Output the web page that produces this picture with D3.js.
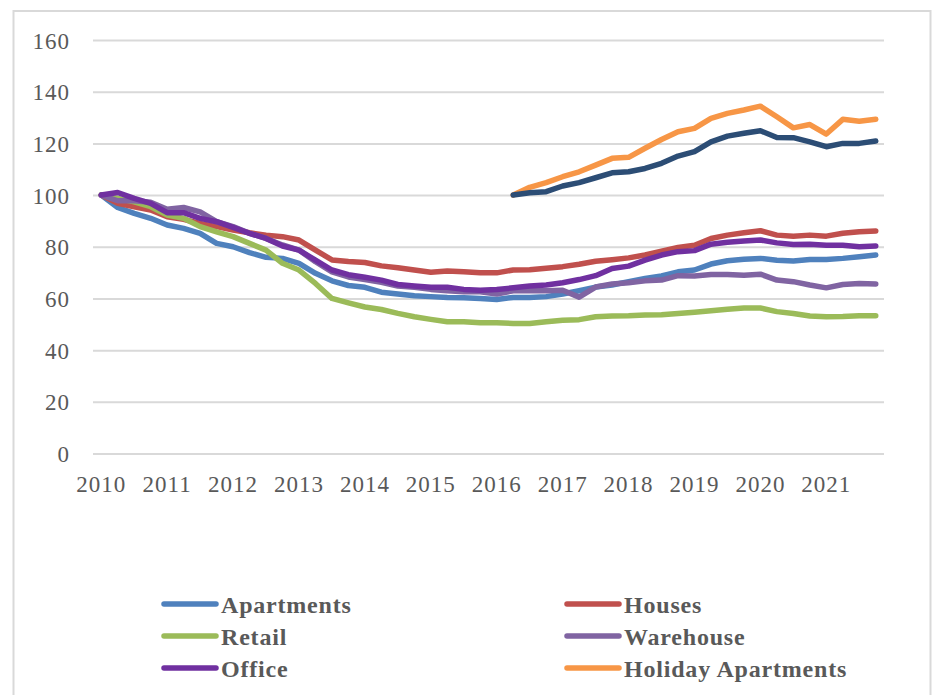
<!DOCTYPE html>
<html>
<head>
<meta charset="utf-8">
<script src="https://cdn.jsdelivr.net/npm/d3@7"></script>
<style>
  html, body { margin: 0; padding: 0; background: #fff; }
  svg { display: block; }
  .tick-label { font-family: "Liberation Serif", "Times New Roman", serif; font-size: 23px; fill: #595959; letter-spacing: 1px; }
  .legend-label { font-family: "Liberation Serif", "Times New Roman", serif; font-size: 24px; font-weight: bold; fill: #595959; letter-spacing: 0.8px; }
</style>
</head>
<body>
<svg id="chart" width="934" height="695"></svg>
<script>
// ---- Data (quarterly index, 2010 Q1 = 100) ----
const years = ["2010","2011","2012","2013","2014","2015","2016","2017","2018","2019","2020","2021"];
const quarters = ["Q1","Q2","Q3","Q4"];
const yTicks = [0, 20, 40, 60, 80, 100, 120, 140, 160];

const apartments = [100,95.2,92.9,91,88.4,87.1,85.2,81.3,80,77.7,75.9,75.5,73.6,69.7,66.8,65,64.3,62.4,61.7,61,60.7,60.4,60.3,60,59.6,60.4,60.4,60.7,61.7,63,64.4,65.2,66.5,67.7,68.7,70.3,71,73.3,74.6,75.2,75.5,74.8,74.5,75.1,75.1,75.5,76.1,76.8];
const houses = [100,96.8,95.5,94.2,91.6,90.6,89,87.8,86.5,85.4,84.5,83.9,82.6,78.7,74.9,74.3,73.9,72.6,71.9,71,70.1,70.6,70.3,69.9,69.9,71,71.1,71.7,72.3,73.2,74.4,75,75.7,76.8,78.3,79.7,80.6,83.2,84.5,85.4,86.2,84.5,84.1,84.5,84.1,85.2,85.8,86.1];
const retail = [100,98.7,97.4,95.5,92.3,91,87.8,85.8,83.9,81.3,78.7,73.6,71,65.8,60,58.3,56.7,55.7,54.2,52.9,51.9,51,51,50.6,50.6,50.3,50.3,51,51.6,51.8,52.9,53.2,53.3,53.6,53.7,54.2,54.7,55.2,55.8,56.3,56.3,54.9,54.2,53.2,52.9,53,53.3,53.3];
const warehouse = [100,97.8,97.8,97.2,94.5,95.2,93.5,89.7,87.8,85.2,83.2,80.7,78.7,74.2,70.3,68.3,67.3,66.2,64.8,64.3,63.5,63,62.6,62.6,61.7,63,63,63,63.2,60.5,64.4,65.6,66.1,66.8,67.1,68.8,68.7,69.3,69.3,69,69.4,67.1,66.5,65.2,64.1,65.4,65.8,65.6];
const office = [100,101,98.7,96.8,93.2,93.2,91,89.7,87.5,85.2,83.2,80.3,78.7,74.8,71,69.2,68.2,67.1,65.4,64.8,64.3,64.3,63.5,63.2,63.5,64.1,64.8,65.2,66.1,67.3,68.8,71.6,72.5,74.8,76.8,78.1,78.5,81,81.7,82.2,82.6,81.5,80.9,81,80.6,80.6,80,80.3];
const holidayApartments = [null,null,null,null,null,null,null,null,null,null,null,null,null,null,null,null,null,null,null,null,null,null,null,null,null,100,103,104.8,107.1,109,111.6,114.2,114.6,118.1,121.5,124.5,125.8,129.7,131.6,132.9,134.4,130.3,126,127.3,123.6,129.3,128.6,129.3];
const series7 = [null,null,null,null,null,null,null,null,null,null,null,null,null,null,null,null,null,null,null,null,null,null,null,null,null,100,100.9,101.3,103.5,104.8,106.7,108.6,109,110.3,112.3,115.1,116.8,120.6,122.8,123.9,124.9,122.3,122.2,120.6,118.7,120,120,120.9];

const seriesNames = ["Apartments","Houses","Retail","Warehouse","Office","Holiday Apartments",""];
const seriesValues = [apartments, houses, retail, warehouse, office, holidayApartments, series7];
const seriesColors = ["#4F81BD","#C0504D","#9BBB59","#8064A2","#7030A0","#F79646","#2C4D75"];
const legendCount = 6; // the 7th entry is clipped off in the original legend

// ---- Layout ----
const svg = d3.select("#chart");
const plot = { left: 93, right: 884, top: 40, bottom: 453.5 };

const categories = [];
years.forEach(y => quarters.forEach(q => categories.push(y + " " + q)));

const x = d3.scaleBand().domain(categories).range([plot.left, plot.right]).padding(0);
const cx = d => x(d) + x.bandwidth() / 2;
const y = d3.scaleLinear().domain([0, 160]).range([plot.bottom, plot.top]);

// outer border
svg.append("rect")
  .attr("x", 13.5).attr("y", 11)
  .attr("width", 917).attr("height", 700)
  .attr("fill", "none").attr("stroke", "#d9d9d9").attr("stroke-width", 2);

// gridlines
const yAxis = d3.axisLeft(y).tickValues(yTicks).tickSize(-(plot.right - plot.left)).tickPadding(23).tickFormat(d3.format("d"));
const gy = svg.append("g").attr("transform", `translate(${plot.left},0)`).call(yAxis);
gy.select(".domain").remove();
gy.selectAll(".tick line").attr("stroke", "#d9d9d9").attr("stroke-width", 2);
gy.selectAll(".tick text").attr("class", "tick-label").attr("fill", null).attr("dy", "0.35em");

// x axis labels
const xAxis = d3.axisBottom(x)
  .tickValues(categories.filter((c, i) => i % 4 === 0))
  .tickSize(0).tickPadding(0)
  .tickFormat(d => d.split(" ")[0]);
const gx = svg.append("g").attr("transform", `translate(0,${plot.bottom})`).call(xAxis);
gx.select(".domain").remove();
gx.selectAll(".tick text").attr("class", "tick-label").attr("fill", null).attr("y", 38).attr("dy", null);

// lines
const line = d3.line()
  .defined(d => d.v !== null)
  .x(d => cx(d.c))
  .y(d => y(d.v));

seriesValues.forEach((vals, si) => {
  const data = vals.map((v, i) => ({ c: categories[i], v }));
  svg.append("path")
    .datum(data)
    .attr("d", line)
    .attr("fill", "none")
    .attr("stroke", seriesColors[si])
    .attr("stroke-width", 5.5)
    .attr("stroke-linejoin", "round")
    .attr("stroke-linecap", "round");
});

// legend
const legendCols = [162, 565];
const legendRows = [604, 636, 668];
for (let i = 0; i < legendCount; i++) {
  const lx = legendCols[i % 2];
  const ly = legendRows[Math.floor(i / 2)];
  const g = svg.append("g").attr("transform", `translate(${lx},${ly})`);
  g.append("line")
    .attr("x1", 2).attr("x2", 54).attr("y1", 0).attr("y2", 0)
    .attr("stroke", seriesColors[i]).attr("stroke-width", 5.5).attr("stroke-linecap", "round");
  g.append("text")
    .attr("class", "legend-label")
    .attr("x", 59).attr("y", 0).attr("dy", "0.36em")
    .text(seriesNames[i]);
}
</script>
</body>
</html>
